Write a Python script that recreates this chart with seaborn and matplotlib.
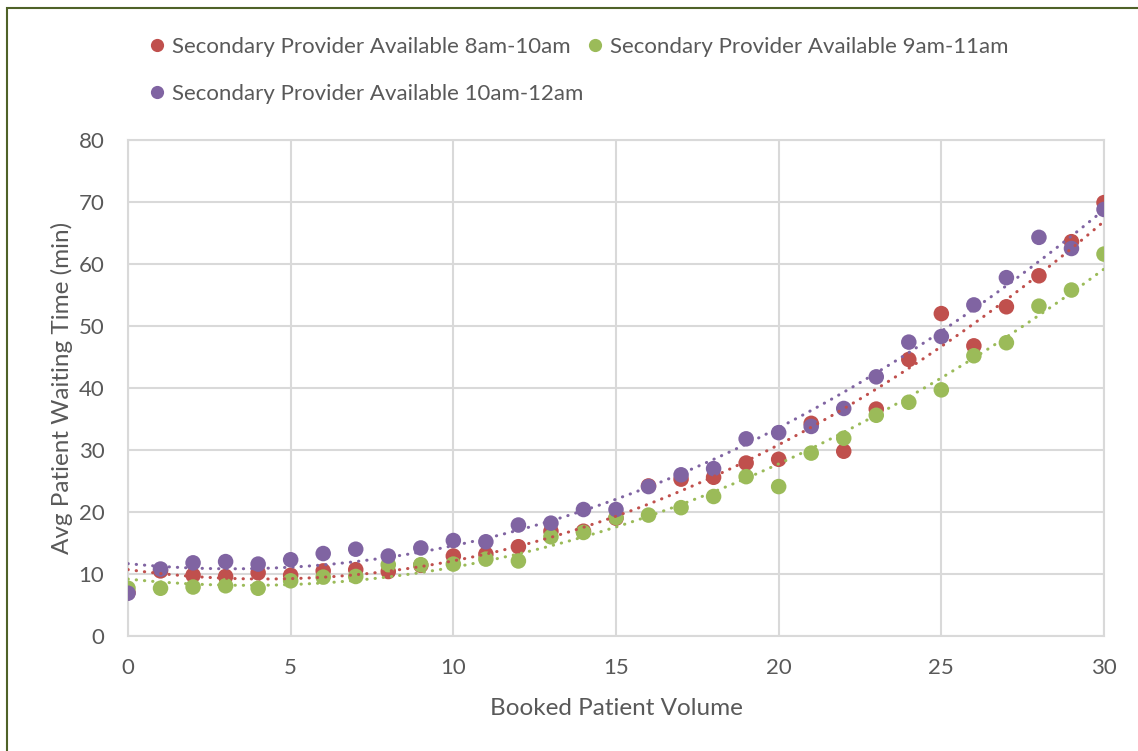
import numpy as np
import pandas as pd
import matplotlib
matplotlib.use("Agg")
import matplotlib.pyplot as plt
import seaborn as sns
from matplotlib.lines import Line2D
from matplotlib.patches import Rectangle

# ---------------- data ----------------
volume = list(range(31))
wait_8_10 = [7.0, 10.5, 9.8, 9.6, 10.2, 9.8, 10.5, 10.7, 10.4, 11.4, 12.9,
             13.2, 14.4, 16.9, 16.9, 19.0, 24.2, 25.3, 25.6, 27.9, 28.5,
             34.3, 29.8, 36.6, 44.6, 52.0, 46.8, 53.1, 58.1, 63.6, 69.9]
wait_9_11 = [7.7, 7.7, 7.9, 8.1, 7.7, 8.9, 9.5, 9.6, 11.5, 11.5, 11.6,
             12.4, 12.1, 16.0, 16.7, 19.1, 19.5, 20.7, 22.5, 25.7, 24.1,
             29.5, 31.9, 35.6, 37.7, 39.7, 45.2, 47.3, 53.2, 55.8, 61.6]
wait_10_12 = [6.9, 10.8, 11.8, 12.0, 11.6, 12.3, 13.3, 14.0, 12.9, 14.2, 15.4,
              15.2, 17.9, 18.2, 20.4, 20.4, 24.1, 26.0, 27.0, 31.8, 32.8,
              33.8, 36.7, 41.8, 47.4, 48.3, 53.4, 57.8, 64.3, 62.5, 68.8]
series_names = ["Secondary Provider Available 8am-10am",
                "Secondary Provider Available 9am-11am",
                "Secondary Provider Available 10am-12am"]
colors = ["#C0504D", "#9BBB59", "#8064A2"]
x_ticks = [0, 5, 10, 15, 20, 25, 30]
y_ticks = [0, 10, 20, 30, 40, 50, 60, 70, 80]

df = pd.DataFrame({
    "volume": volume * 3,
    "wait": wait_8_10 + wait_9_11 + wait_10_12,
    "series": [series_names[0]] * 31 + [series_names[1]] * 31 + [series_names[2]] * 31,
})

# ---------------- style ----------------
sns.set_theme(style="white")
plt.rcParams["font.family"] = ["Lato", "DejaVu Sans"]
text_color = "#595959"
grid_color = "#D9D9D9"

fig = plt.figure(figsize=(11.38, 7.51), dpi=100)
ax = fig.add_axes([128 / 1138, 1 - 636 / 751, (1104 - 128) / 1138, (636 - 140) / 751])

for name, col in zip(series_names, colors):
    sub = df[df["series"] == name]
    sns.scatterplot(data=sub, x="volume", y="wait", color=col, s=125,
                    edgecolor="none", linewidth=0, ax=ax, legend=False, zorder=3)

# polynomial (order 2) trendlines, as in the original spreadsheet chart
xs = np.linspace(0, 30, 200)
for name, col in zip(series_names, colors):
    sub = df[df["series"] == name]
    coef = np.polyfit(sub["volume"], sub["wait"], 2)
    sns.lineplot(x=xs, y=np.polyval(coef, xs), color=col, ax=ax,
                 linewidth=2.2, linestyle=(0, (0.1, 2.6)),
                 dash_capstyle="round", zorder=4)

ax.set_xlim(0, 30)
ax.set_ylim(0, 80)
ax.set_xticks(x_ticks)
ax.set_yticks(y_ticks)
ax.grid(True, color=grid_color, linewidth=1.5)
ax.set_axisbelow(True)
for sp in ax.spines.values():
    sp.set_color(grid_color)
    sp.set_linewidth(1.5)
ax.tick_params(axis="both", length=0, labelsize=16, labelcolor=text_color)
ax.tick_params(axis="x", pad=16)
ax.tick_params(axis="y", pad=17)
ax.set_xlabel("Booked Patient Volume", fontsize=17.5, color=text_color, labelpad=14)
ax.set_ylabel("Avg Patient Waiting Time (min)", fontsize=17.5, color=text_color, labelpad=4)

# legend (row-major ordering for two columns)
handles = [Line2D([], [], marker="o", linestyle="none", markersize=9.5,
                  markerfacecolor=c, markeredgecolor="none") for c in colors]
order = [0, 2, 1]
leg = fig.legend([handles[i] for i in order], [series_names[i] for i in order],
                 ncol=2, loc="upper left", bbox_to_anchor=(146 / 1138, 1 - 37 / 751),
                 frameon=False, fontsize=16, handletextpad=0.15, columnspacing=0.05,
                 handlelength=1.0, labelspacing=1.2, borderaxespad=0, borderpad=0)
for t in leg.get_texts():
    t.set_color(text_color)

# chart area border
fig.patches.append(Rectangle((7 / 1138, -0.05), 1.2, 1 - 8 / 751 + 0.05,
                             transform=fig.transFigure, fill=False,
                             edgecolor="#4F6228", linewidth=1.5))

fig.savefig("out.png", dpi=100)
